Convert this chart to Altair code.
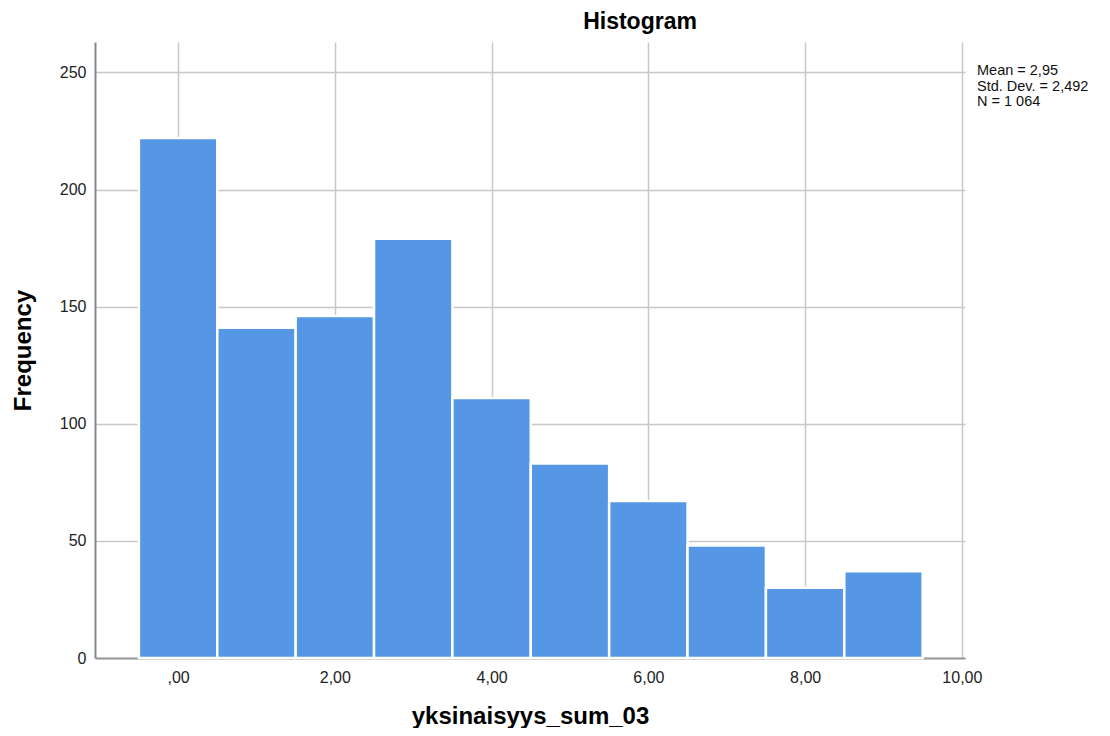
import altair as alt
import pandas as pd

bin_start = [-0.5, 0.5, 1.5, 2.5, 3.5, 4.5, 5.5, 6.5, 7.5, 8.5]
bin_end = [0.5, 1.5, 2.5, 3.5, 4.5, 5.5, 6.5, 7.5, 8.5, 9.5]
counts = [222, 141, 146, 179, 111, 83, 67, 48, 30, 37]
stats_lines = ["Mean = 2,95", "Std. Dev. = 2,492", "N = 1 064"]

df = pd.DataFrame({"start": bin_start, "end": bin_end, "count": counts})

FONT = "Liberation Sans"
W, H = 870, 616

xscale = alt.Scale(domain=[-1.06, 10.04], nice=False, zero=False)
yscale = alt.Scale(domain=[0, 263], nice=False)

bars = alt.Chart(df).mark_bar(
    color="#5596E5", stroke="white", strokeWidth=2.5
).encode(
    x=alt.X("start:Q", scale=xscale,
            axis=alt.Axis(values=[0, 2, 4, 6, 8, 10],
                          labelExpr="datum.value == 0 ? ',00' : replace(format(datum.value, '.2f'), '.', ',')",
                          title="yksinaisyys_sum_03", titleFontSize=24, titleFontWeight="bold",
                          titleColor="#000", titleFont=FONT, titlePadding=19,
                          labelFont=FONT, labelFontSize=16, labelColor="#222", labelPadding=11,
                          ticks=False, grid=True, gridColor="#c8c8c8", gridWidth=1.5,
                          domainColor="#999", domainWidth=2)),
    x2="end:Q",
    y=alt.Y("count:Q", scale=yscale,
            axis=alt.Axis(values=[0, 50, 100, 150, 200, 250],
                          title="Frequency", titleFontSize=24, titleFontWeight="bold",
                          titleColor="#000", titleFont=FONT, titlePadding=24,
                          labelFont=FONT, labelFontSize=16, labelColor="#222", labelPadding=9,
                          ticks=False, grid=True, gridColor="#c8c8c8", gridWidth=1.5,
                          domainColor="#888", domainWidth=2)),
    y2=alt.datum(0),
)

stats_df = pd.DataFrame({"text": ["\n".join(stats_lines)]})
stats = alt.Chart(stats_df).mark_text(
    align="left", baseline="top", font=FONT, fontSize=14.5, color="#111",
    lineBreak="\n", lineHeight=15.5
).encode(
    x=alt.value(W + 12),
    y=alt.value(22),
    text="text:N",
)

chart = alt.layer(bars, stats).properties(
    width=W, height=H,
    title=alt.TitleParams("Histogram", fontSize=23, fontWeight="bold", font=FONT,
                          color="#000", anchor="middle", dx=110, offset=8),
    autosize=alt.AutoSizeParams(type="none"),
    padding={"left": 87, "top": 34, "right": 137, "bottom": 70},
).configure_view(stroke=None)

chart.save("out.html", embed_options={"renderer": "svg", "actions": False})
